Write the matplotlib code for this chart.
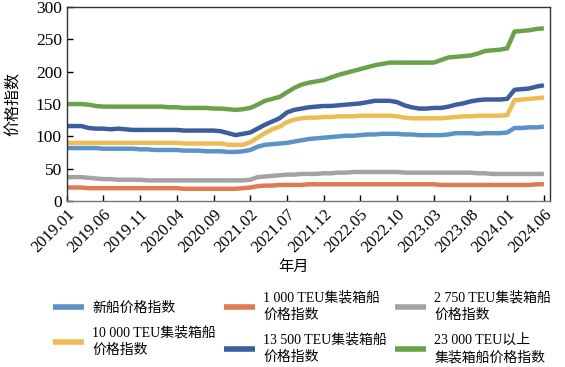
import numpy as np
import matplotlib
matplotlib.use("Agg")
import matplotlib.pyplot as plt

plt.rcParams['font.family'] = ['Liberation Serif', 'Noto Sans CJK SC', 'DejaVu Sans']

tick_labels = ["2019.01", "2019.06", "2019.11", "2020.04", "2020.09", "2021.02", "2021.07",
               "2021.12", "2022.05", "2022.10", "2023.03", "2023.08", "2024.01", "2024.06"]

new_ship = [82, 82, 82, 82, 82,
            81, 81, 81, 81, 81,
            80, 80, 79, 79, 79, 79,
            78, 78, 78, 77, 77, 77,
            76, 76, 77,
            79, 84, 87, 88, 89,
            90, 92, 94, 96, 97,
            98, 99, 100, 101, 101,
            102, 103, 103, 104, 104,
            104, 103, 103, 102, 102,
            102, 102, 103, 105, 105,
            105, 104, 105, 105, 105,
            106, 113, 113, 114, 114, 115]

teu_1000 = [21, 21, 21, 20, 20, 20,
            20, 20, 20, 20, 20, 20, 20, 20, 20, 20, 19, 19, 19, 19, 19, 19, 19, 19, 20,
            21, 23, 24, 24, 25, 25, 25, 25, 26, 26,
            26, 26, 26, 26, 26, 26, 26, 26, 26, 26, 26, 26, 26, 26, 26, 26,
            25, 25, 25, 25, 25, 25, 25, 25, 25, 25,
            25, 25, 25, 26, 26]

teu_2750 = [37, 37, 37, 36, 35,
            34, 34, 33, 33, 33, 33,
            32, 32, 32, 32, 32, 32, 32, 32, 32, 32, 32, 32, 32, 32,
            33, 37, 38, 39, 40, 41, 41, 42, 42, 42,
            43, 43, 44, 44, 45, 45, 45, 45, 45, 45, 45,
            44, 44, 44, 44, 44, 44, 44, 44, 44, 44,
            43, 43, 42, 42, 42, 42, 42, 42, 42, 42]

teu_10000 = [90] * 16 + [89] * 6 + [87, 87, 87,
             91, 98, 105, 111, 115,
             122, 126, 128, 129, 129,
             130, 130, 131, 131, 131,
             132, 132, 132, 132, 132,
             131, 129, 128, 128, 128,
             128, 128, 129, 130, 131,
             131, 132, 132, 132, 132,
             133, 156, 157, 158, 159, 160]

teu_13500 = [116, 116, 116, 113, 112,
             112, 111, 112, 111, 110,
             110, 110, 110, 110, 110,
             110, 109, 109, 109, 109,
             109, 108, 105, 102, 104,
             106, 112, 118, 123, 128,
             137, 141, 143, 145, 146,
             147, 147, 148, 149, 150,
             151, 153, 155, 155, 155,
             153, 148, 145, 143, 143,
             144, 144, 146, 149, 151,
             154, 156, 157, 157, 157,
             158, 172, 173, 174, 177, 179]

teu_23000 = [150, 150, 150, 149, 147,
             146, 146, 146, 146, 146,
             146, 146, 146, 146, 145,
             145, 144, 144, 144, 144,
             143, 143, 142, 141, 142,
             144, 149, 155, 158, 161,
             168, 175, 180, 183, 185,
             187, 191, 195, 198, 201,
             204, 207, 210, 212, 214,
             214, 214, 214, 214, 214,
             214, 218, 222, 223, 224,
             225, 228, 232, 233, 234,
             236, 262, 263, 264, 266, 267]

series_names = ["新船价格指数", "1 000 TEU集装箱船\n价格指数", "2 750 TEU集装箱船\n价格指数",
                "10 000 TEU集装箱船\n价格指数", "13 500 TEU集装箱船\n价格指数", "23 000 TEU以上\n集装箱船价格指数"]
series = [new_ship, teu_1000, teu_2750, teu_10000, teu_13500, teu_23000]
colors = ["#5b93c6", "#de7b52", "#a3a3a3", "#efbb55", "#3c5e9e", "#6aa24a"]

fig = plt.figure(figsize=(5.65, 3.67), dpi=100)
ax = fig.add_axes([0.118, 0.452, 0.855, 0.529])

x = np.arange(len(new_ship))
handles = []
for vals, c, name in zip(series, colors, series_names):
    h, = ax.plot(x, vals, color=c, lw=3.2, label=name, solid_capstyle='butt')
    handles.append(h)

ax.set_xlim(0, 65.8)
ax.set_ylim(0, 300)
ax.set_yticks(np.arange(0, 301, 50))
ax.set_xticks(np.arange(0, 66, 5))
ax.set_xticklabels(tick_labels, rotation=45, ha='right', rotation_mode='anchor', fontsize=12)
ax.tick_params(axis='y', labelsize=12.5, direction='in', length=4, width=1)
ax.tick_params(axis='x', direction='in', length=4, width=1, pad=4)
for s in ax.spines.values():
    s.set_linewidth(1)
    s.set_color('#333333')
ax.spines['bottom'].set_color('#777777')

ax.set_ylabel("价格指数", fontsize=11.5, labelpad=10)
fig.text(0.519, 0.272, "年月", fontsize=11, ha='center', va='center')

order = [0, 3, 1, 4, 2, 5]
leg = fig.legend(handles=[handles[i] for i in order], labels=[series_names[i] for i in order],
                 ncol=3, loc='upper left',
                 bbox_to_anchor=(0.075, 0.236), frameon=False, fontsize=10,
                 handlelength=2.2, handletextpad=0.6, columnspacing=0.6,
                 labelspacing=0.8, borderpad=0.3)
for line in leg.get_lines():
    line.set_linewidth(4)
for t in leg.get_texts():
    t.set_linespacing(1.4)

fig.savefig("out.png", dpi=100)
